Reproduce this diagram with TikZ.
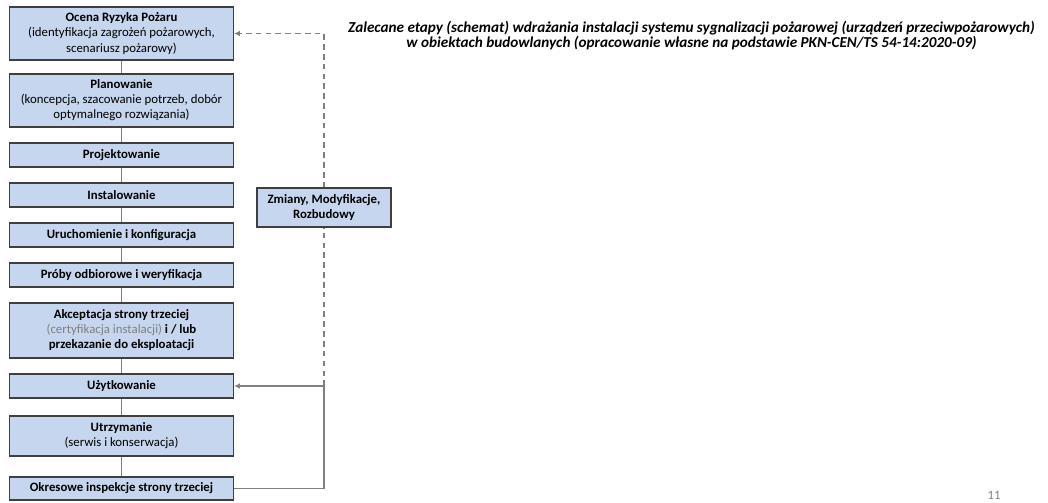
\documentclass[tikz,border=0pt]{standalone}
\usepackage{fontspec}
\setmainfont{Carlito}
\usepackage{tikz}
\usetikzlibrary{arrows.meta}

\definecolor{boxfill}{HTML}{C6D6EE}
\definecolor{boxline}{HTML}{3F3F3F}
\definecolor{linkgray}{HTML}{808080}
\definecolor{notegray}{HTML}{7F7F7F}

\begin{document}
\begin{tikzpicture}[x=0.025cm,y=-0.025cm,
		stage/.style={draw=boxline,line width=0.9pt,fill=boxfill,minimum width=5.6cm,
			align=center,inner sep=0pt,font=\fontsize{9.1}{10.7}\selectfont},
		link/.style={draw=linkgray,line width=0.8pt},
		back/.style={link,-{Latex[length=4pt,width=4pt]}}]
		\useasboundingbox (0,0) rectangle (1048,502);
		% lewa kolumna etapow
		\node[stage,minimum height=1.32cm] (ocena) at (121.5,33.5) {\textbf{Ocena Ryzyka Pożaru}\\(identyfikacja zagrożeń pożarowych,\\scenariusz pożarowy)};
		\node[stage,minimum height=1.32cm] (plan) at (121.5,100.5) {\textbf{Planowanie}\\(koncepcja, szacowanie potrzeb, dobór\\optymalnego rozwiązania)};
		\node[stage,minimum height=0.6cm] (proj) at (121.5,155) {\textbf{Projektowanie}};
		\node[stage,minimum height=0.6cm] (inst) at (121.5,195) {\textbf{Instalowanie}};
		\node[stage,minimum height=0.6cm] (uruch) at (121.5,235) {\textbf{Uruchomienie i konfiguracja}};
		\node[stage,minimum height=0.6cm] (proby) at (121.5,275) {\textbf{Próby odbiorowe i weryfikacja}};
		\node[stage,minimum height=1.37cm] (akcept) at (121.5,330.5) {\textbf{Akceptacja strony trzeciej}\\{\color{notegray}(certyfikacja instalacji)} \textbf{i / lub}\\\textbf{przekazanie do eksploatacji}};
		\node[stage,minimum height=0.6cm] (uzytk) at (121.5,386) {\textbf{Użytkowanie}};
		\node[stage,minimum height=1cm] (utrzym) at (121.5,436) {\textbf{Utrzymanie}\\(serwis i konserwacja)};
		\node[stage,minimum height=0.57cm] (inspekcje) at (121.5,488.5) {\textbf{Okresowe inspekcje strony trzeciej}};
		% petla zmian
		\node[stage,minimum width=3.35cm,minimum height=0.97cm] (zmiany) at (324,207.5) {\textbf{Zmiany, Modyfikacje,}\\\textbf{Rozbudowy}};
		\coordinate (rog) at (inspekcje.east -| zmiany.south);
		\coordinate (wezel) at (uzytk.east -| zmiany.south);
		\coordinate (gora) at (ocena.east -| zmiany.north);

		\foreach \a/\b in {ocena/plan,plan/proj,proj/inst,inst/uruch,uruch/proby,proby/akcept,akcept/uzytk,uzytk/utrzym,utrzym/inspekcje}
			\draw[link] (\a) -- (\b);

		\draw[link] (inspekcje.east) -- (rog) -- (wezel);
		\draw[back] (wezel) -- (uzytk.east);
		\draw[link,dash pattern=on 4pt off 3pt] (wezel) -- (zmiany.south);
		\draw[back,dash pattern=on 4pt off 3pt] (zmiany.north) -- (gora) -- (ocena.east);

		% tytul
		\node[align=center,font=\fontsize{10.8}{10.7}\selectfont\bfseries\itshape] (tytul) at (691.5,35.5)
			{Zalecane etapy (schemat) wdrażania instalacji systemu sygnalizacji pożarowej (urządzeń przeciwpożarowych)\\
			w obiektach budowlanych (opracowanie własne na podstawie PKN-CEN/TS 54-14:2020-09)};
		\node[anchor=north,text=notegray,font=\fontsize{9}{9}\selectfont,inner sep=0pt] (strona) at (994,491) {11};
	\end{tikzpicture}
\end{document}
